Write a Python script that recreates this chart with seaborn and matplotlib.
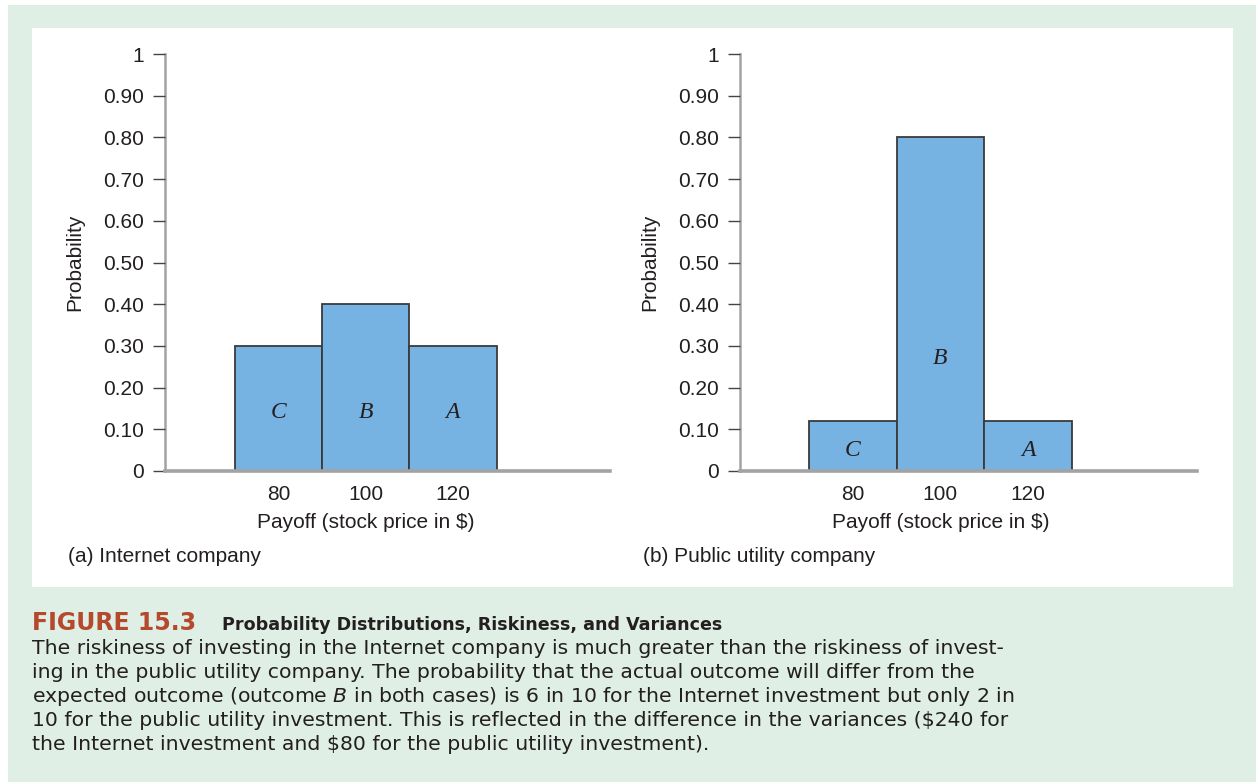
import matplotlib
matplotlib.use("Agg")
import matplotlib.pyplot as plt
import matplotlib.transforms as mtransforms
from matplotlib.patches import Rectangle
import seaborn as sns

# data
payoffs = [80, 100, 120]
outcomes = ["C", "B", "A"]
prob_internet = [0.30, 0.40, 0.30]
prob_utility = [0.12, 0.80, 0.12]
ytick_vals = [0, 0.1, 0.2, 0.3, 0.4, 0.5, 0.6, 0.7, 0.8, 0.9, 1.0]
ytick_labels = ["0", "0.10", "0.20", "0.30", "0.40", "0.50", "0.60",
                "0.70", "0.80", "0.90", "1"]
panel_titles = ["(a) Internet company", "(b) Public utility company"]
# y position of outcome letters inside the bars
letter_y_internet = [0.14, 0.14, 0.14]
letter_y_utility = [0.05, 0.27, 0.05]

caption_head = "FIGURE 15.3"
caption_title = "Probability Distributions, Riskiness, and Variances"
caption_lines = [
    "The riskiness of investing in the Internet company is much greater than the riskiness of invest-",
    "ing in the public utility company. The probability that the actual outcome will differ from the",
    "expected outcome (outcome $\\it{B}$ in both cases) is 6 in 10 for the Internet investment but only 2 in",
    "10 for the public utility investment. This is reflected in the difference in the variances (\\$240 for",
    "the Internet investment and \\$80 for the public utility investment).",
]

sns.set_style("white")
plt.rcParams["font.family"] = ["Liberation Sans", "DejaVu Sans"]
plt.rcParams["mathtext.fontset"] = "dejavusans"

W, H = 1256, 782
fig = plt.figure(figsize=(W / 100, H / 100), dpi=100, facecolor="white")

green = "#e0efe6"
bar_color = "#77b3e2"
axis_gray = "#a3a3a3"
text_dark = "#231f20"
fs = 15


def fx(px):
    return px / W


def fy(py):
    return 1 - py / H


# backgrounds
fig.patches.append(Rectangle((fx(8), 0), 1 - fx(8), fy(5), transform=fig.transFigure,
                             facecolor=green, edgecolor="none", zorder=-2))
fig.patches.append(Rectangle((fx(32), fy(587)), fx(1233 - 32), (587 - 28) / H,
                             transform=fig.transFigure, facecolor="white",
                             edgecolor="none", zorder=-1))

panels = [
    dict(left=165, right=610, xlim=(54, 156), probs=prob_internet,
         ly=letter_y_internet, ylab_x=75, title_x=68),
    dict(left=740, right=1197, xlim=(54.3, 158.5), probs=prob_utility,
         ly=letter_y_utility, ylab_x=650, title_x=643),
]

top_px, bottom_px = 54, 471

for p, title in zip(panels, panel_titles):
    ax = fig.add_axes([fx(p["left"]), fy(bottom_px), fx(p["right"] - p["left"]),
                       (bottom_px - top_px) / H])
    ax.set_facecolor("none")
    sns.histplot(x=payoffs, weights=p["probs"], bins=[70, 90, 110, 130], ax=ax,
                 color=bar_color, edgecolor="#3a3a3a", linewidth=1.3, alpha=1,
                 stat="count")
    ax.set_xlim(*p["xlim"])
    ax.set_ylim(0, 1)
    for sp in ["top", "right"]:
        ax.spines[sp].set_visible(False)
    ax.spines["left"].set_color(axis_gray)
    ax.spines["left"].set_linewidth(1.8)
    ax.spines["bottom"].set_color(axis_gray)
    ax.spines["bottom"].set_linewidth(2.6)
    ax.spines["left"].set_zorder(0)

    ax.set_yticks(ytick_vals)
    ax.set_yticklabels(ytick_labels)
    ax.tick_params(axis="y", left=True, length=9, width=1.0, color="#444444",
                   pad=6, labelsize=fs, labelcolor=text_dark)
    ax.set_xticks(payoffs)
    ax.set_xticklabels([str(v) for v in payoffs])
    ax.tick_params(axis="x", bottom=False, length=0, pad=10, labelsize=fs,
                   labelcolor=text_dark)
    ax.set_ylabel("")
    ax.set_xlabel("")

    for xv, yv, lab in zip(payoffs, p["ly"], outcomes):
        ax.text(xv, yv, lab, ha="center", va="center", fontsize=17,
                style="italic", family=["Liberation Serif", "DejaVu Serif"],
                color=text_dark)

    trans = mtransforms.blended_transform_factory(ax.transData, fig.transFigure)
    ax.text(100, fy(523), "Payoff (stock price in $)", transform=trans,
            ha="center", va="center", fontsize=fs, color=text_dark)
    fig.text(fx(p["ylab_x"]), fy(262), "Probability", rotation=90, ha="center",
             va="center", fontsize=fs, color=text_dark)
    fig.text(fx(p["title_x"]), fy(556), title, ha="left", va="center",
             fontsize=fs, color=text_dark)

# caption
cap_font = ["DejaVu Sans"]
fig.text(fx(32), fy(623), caption_head, ha="left", va="center", fontsize=17,
         fontweight="bold", color="#b5492d", family=cap_font)
fig.text(fx(222), fy(625), caption_title, ha="left", va="center", fontsize=12.6,
         fontweight="bold", color=text_dark, family=cap_font)
for i, line in enumerate(caption_lines):
    fig.text(fx(32), fy(648 + 24 * i), line, ha="left", va="center",
             fontsize=14.7, color=text_dark, family=cap_font)

fig.savefig("out.png", dpi=100, facecolor=fig.get_facecolor())
